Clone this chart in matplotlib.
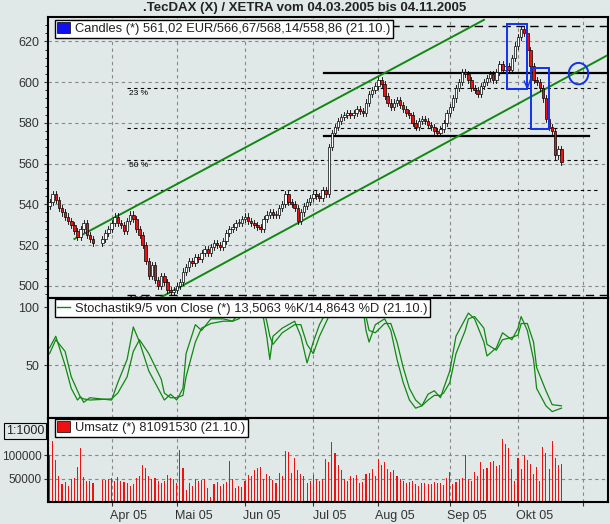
import numpy as np
import pandas as pd
import matplotlib
matplotlib.use("Agg")
import matplotlib.pyplot as plt
from matplotlib.patches import Rectangle, Ellipse, Patch
from matplotlib.lines import Line2D
import matplotlib.transforms as mtransforms

plt.rcParams['font.family'] = ['Liberation Sans', 'DejaVu Sans']

title = ".TecDAX (X) / XETRA vom 04.03.2005 bis 04.11.2005"
closes = [541,545,542,538,536,534,532,530,527,524,528,531,525,523,
          521,523,526,528,531,534,531,530,527,532,535,533,528,525,520,512,
          505,510,503,500,505,502,498,497,498,500,502,507,509,512,511,514,513,516,518,516,
          519,521,520,519,522,526,528,529,531,531,533,534,532,531,530,529,528,533,535,536,
          535,535,538,540,545,541,540,538,532,536,539,541,543,545,544,543,547,545,568,575,
          578,581,583,584,585,584,585,587,586,585,590,594,596,598,601,599,593,590,588,590,
          591,589,587,585,584,580,578,581,582,581,579,578,576,575,577,580,585,588,592,597,
          600,605,604,601,597,596,594,598,600,602,604,601,605,609,606,608,606,612,618,622,
          626,624,616,608,601,600,597,592,582,578,576,564,567,561]
volumes = [100000,130000,90000,55000,38000,42000,35000,50000,52000,75000,115000,53000,45000,46000,40000,
           48000,48000,50000,52000,45000,53000,45000,43000,40000,35000,38000,52000,55000,80000,72000,
           55000,50000,52000,45000,40000,45000,58000,52000,50000,40000,112000,72000,25000,40000,35000,
           50000,45000,48000,50000,30000,10000,38000,42000,35000,38000,42000,88000,50000,30000,35000,
           33000,45000,58000,55000,68000,72000,75000,50000,60000,55000,48000,40000,62000,55000,110000,
           108000,62000,95000,68000,60000,55000,40000,45000,58000,50000,45000,50000,92000,85000,128000,
           105000,80000,68000,50000,45000,55000,52000,58000,40000,42000,60000,62000,70000,55000,92000,
           80000,85000,70000,65000,68000,55000,50000,45000,40000,42000,45000,38000,35000,40000,40000,
           38000,38000,42000,40000,40000,36000,52000,65000,38000,42000,50000,52000,100000,50000,45000,
           65000,55000,85000,70000,72000,85000,88000,78000,80000,135000,125000,115000,70000,45000,95000,
           70000,100000,90000,82000,60000,75000,45000,118000,105000,70000,130000,95000,80000,81000]
stoch_idx = [0,2,5,7,9,10,11,13,18,20,23,25,27,30,34,35,37,39,41,42,45,47,50,54,57,59,62,64,67,68,69,70,73,77,79,81,83,85,88,93,99,100,101,103,106,108,110,112,114,116,118,120,122,124,125,127,129,132,133,135,138,139,142,144,147,149,150,152,154,155,158,160,163]
stoch_k = [65,75,50,30,20,23,18,22,20,35,55,83,70,45,25,20,25,20,30,60,85,80,90,90,88,95,105,105,90,75,55,75,82,88,75,52,70,85,100,108,100,80,70,85,90,80,55,35,20,13,15,25,28,22,30,45,75,90,95,90,70,58,65,78,72,82,92,80,55,30,15,10,13]
stoch_d = [60,72,62,40,28,22,21,20,21,26,40,62,72,60,38,26,22,22,24,40,70,82,86,88,88,90,100,104,98,88,75,68,78,85,85,68,60,75,92,105,104,92,80,78,86,86,70,48,30,20,15,20,24,24,26,35,60,80,90,92,82,68,63,72,74,76,86,86,70,48,28,16,15]
candle_legend = "Candles (*) 561,02 EUR/566,67/568,14/558,86 (21.10.)"
stoch_legend = "Stochastik9/5 von Close (*) 13,5063 %K/14,8643 %D (21.10.)"
vol_legend = "Umsatz (*) 81091530 (21.10.)"
month_labels = ["Apr 05", "Mai 05", "Jun 05", "Jul 05", "Aug 05", "Sep 05", "Okt 05"]

bdays = pd.bdate_range("2005-03-04", "2005-12-31")
holidays = [pd.Timestamp("2005-03-25"), pd.Timestamp("2005-03-28")]
data_days = [d for d in bdays if d <= pd.Timestamp("2005-10-21") and d not in holidays]
pos = np.array([bdays.get_loc(d) for d in data_days])
n = len(pos)
closes = np.array(closes[:n], float)
volumes = np.array(volumes[:n], float)
opens = np.concatenate([[539.0], closes[:-1]])
month_starts = [int(np.argmax(bdays >= pd.Timestamp(f"2005-{m:02d}-01"))) for m in range(4, 12)]

BG = "#e0e8e8"
W, H = 610, 524
L, R = 48, 608
def rect(top, bot):
    return [L / W, 1 - bot / H, (R - L) / W, (bot - top) / H]

fig = plt.figure(figsize=(6.10, 5.24), dpi=100, facecolor=BG)
axp = fig.add_axes(rect(17, 298), facecolor=BG)
axs = fig.add_axes(rect(298, 418), facecolor=BG, sharex=axp)
axv = fig.add_axes(rect(418, 502), facecolor=BG, sharex=axp)
fig.text(0.5, 1 - 8.5 / H, title, ha="center", va="center", fontsize=9.5, fontweight="bold", color="#222222")

for ax in (axp, axs, axv):
    ax.set_xlim(-0.5, 180)
    for s in ax.spines.values():
        s.set_linewidth(1.5)
    for m in month_starts:
        ax.axvline(m, color="#888888", ls=(0, (3, 3)), lw=0.8, zorder=0)
    ax.tick_params(axis="both", labelsize=9, colors="#333333", length=3, direction="out")
    ax.set_xticks(month_starts)
    ax.tick_params(axis="x", labelbottom=False)

# price panel
axp.set_ylim(494, 632)
axp.set_yticks([500, 520, 540, 560, 580, 600, 620])
axp.set_yticks(np.arange(496, 632, 4), minor=True)
axp.tick_params(axis="y", which="minor", length=2)
for y in [500, 520, 540, 560, 580, 600, 620]:
    axp.axhline(y, color="#888888", ls=(0, (3, 3)), lw=0.8, zorder=0)
for y in [597, 577.5, 562, 547]:
    axp.plot([25, 177], [y, y], color="black", ls=(0, (3, 3)), lw=0.8, zorder=1)
for y in [627.5, 495.5]:
    axp.plot([25, 180], [y, y], color="black", ls=(0, (6, 4)), lw=1.0, zorder=1)
axp.text(25.5, 596, "23 %", fontsize=6, va="top")
axp.text(25.5, 561, "50 %", fontsize=6, va="top")
axp.text(25.5, 495, "100 %", fontsize=6, va="top")
axp.plot([88.5, 180], [604.5, 604.5], color="black", lw=1.6, zorder=2)
axp.plot([88.5, 174], [573.5, 573.5], color="black", lw=1.6, zorder=2)
axp.plot([8, 140], [523, 523 + 0.815 * 132], color="#118811", lw=1.4, zorder=2)
axp.plot([35.5, 180], [494, 494 + 0.826 * 144.5], color="#118811", lw=1.4, zorder=2)

for x, o, c in zip(pos, opens, closes):
    hi, lo = max(o, c), min(o, c)
    if hi - lo < 0.6:
        hi += 0.3; lo -= 0.3
    axp.plot([x, x], [lo - 1.5, hi + 1.5], color="black", lw=0.6, zorder=3)
    axp.add_patch(Rectangle((x - 0.4, lo), 0.8, hi - lo,
                            facecolor=("#ee1111" if c < o else "white"),
                            edgecolor="black", lw=0.5, zorder=4))

axp.add_patch(Rectangle((147.4, 596.8), 6.5, 31.9, fill=False, ec="#1133ee", lw=1.4, zorder=5))
axp.add_patch(Rectangle((155.1, 576.9), 6.0, 30.1, fill=False, ec="#1133ee", lw=1.4, zorder=5))
axp.add_patch(Ellipse((170.5, 604.2), 6.3, 10.5, fill=False, ec="#1133ee", lw=1.4, zorder=5))
axp.plot([153.0, 154.0, 155.3], [600.5, 597.0, 602.5], color="#1133ee", lw=1.0, zorder=5)

def legend_box(ax, text, handle):
    lg = ax.legend([handle], [text], loc="upper left", bbox_to_anchor=(0.012, 0.99),
                   fontsize=9.3, frameon=True, fancybox=False, borderpad=0.2,
                   handlelength=1.0, handleheight=0.9, handletextpad=0.4, borderaxespad=0.0)
    fr = lg.get_frame()
    fr.set_facecolor("white"); fr.set_edgecolor("black"); fr.set_linewidth(1.0); fr.set_alpha(1)
    lg.set_zorder(10)
    for t in lg.get_texts():
        t.set_color("#222222")

legend_box(axp, candle_legend, Patch(fc="#1111ee", ec="black", lw=0.5))

# stochastic panel
axs.set_ylim(4.5, 108)
axs.set_yticks([50, 100])
axs.axhline(50, color="#888888", ls=(0, (3, 3)), lw=0.8, zorder=0)
sx = [pos[min(i, n - 1)] for i in stoch_idx]
axs.plot(sx, stoch_k, color="#118811", lw=0.9)
axs.plot(sx, stoch_d, color="#118811", lw=0.9)
legend_box(axs, stoch_legend, Line2D([], [], color="#118811", lw=1))

# volume panel
axv.set_ylim(0, 180000)
axv.set_yticks([50000, 100000])
axv.set_yticklabels(["50000", "100000"])
axv.tick_params(axis="y", labelsize=8.5, pad=1.5)
for y in [50000, 100000]:
    axv.axhline(y, color="#888888", ls=(0, (3, 3)), lw=0.8, zorder=0)
axv.bar(pos, volumes, width=0.35, color="#ee1111", zorder=2)
legend_box(axv, vol_legend, Patch(fc="#ee1111", ec="black", lw=0.5))
fig.text(0.01, 1 - 431 / H, "1:1000", fontsize=9, color="#222222", va="center",
         bbox=dict(boxstyle="square,pad=0.15", fc=BG, ec="black", lw=0.8))

trans = mtransforms.blended_transform_factory(axv.transData, axv.transAxes)
for m, lab in zip(month_starts, month_labels):
    axv.text(m + 5.4, -0.1, lab, transform=trans, ha="center", va="top", fontsize=9, color="#333333")

fig.savefig("out.png", dpi=100, facecolor=BG)
